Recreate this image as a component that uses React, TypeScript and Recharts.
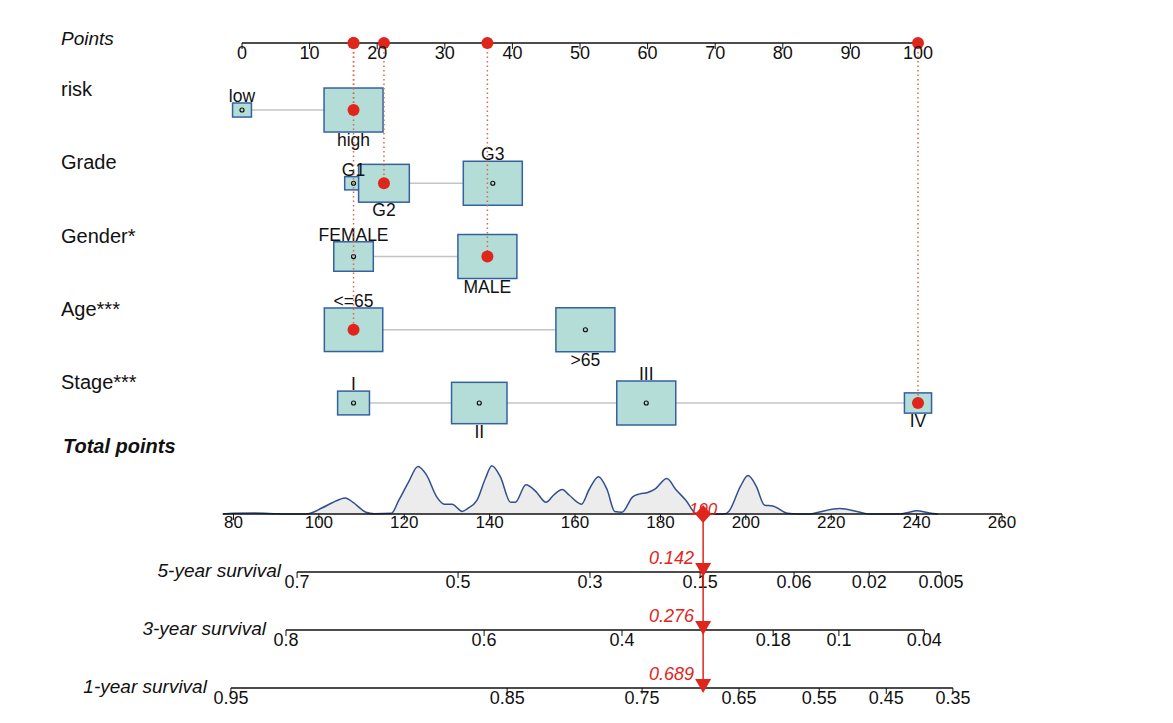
import React from "react";
import { ComposedChart, AreaChart, Area, Scatter, XAxis, YAxis } from "recharts";

const FONT = '"Liberation Sans", Arial, Helvetica, sans-serif';
const RED = "#e0261c";
const BOX_FILL = "#b3ddd6";
const BOX_STROKE = "#3561a3";
const INK = "#111";

// points scale (top axis)
const pointTicks = [0, 10, 20, 30, 40, 50, 60, 70, 80, 90, 100];

// predictors, their levels, points and box sizes
const variables = ["risk", "Grade", "Gender*", "Age***", "Stage***"];
const riskLevels = ["low", "high"];
const riskPoints = [0, 16.5];
const riskSizes = [0.32, 1];
const gradeLevels = ["G1", "G2", "G3"];
const gradePoints = [16.5, 21, 37.1];
const gradeSizes = [0.3, 0.86, 1];
const genderLevels = ["FEMALE", "MALE"];
const genderPoints = [16.5, 36.3];
const genderSizes = [0.67, 1];
const ageLevels = ["<=65", ">65"];
const agePoints = [16.5, 50.8];
const ageSizes = [0.99, 1];
const stageLevels = ["I", "II", "III", "IV"];
const stagePoints = [16.5, 35.1, 59.8, 100];
const stageSizes = [0.54, 0.94, 1, 0.46];
// the patient's levels (red dots)
const patient = ["high", "G2", "MALE", "<=65", "IV"];

// total points scale + density
const totalTicks = [80, 100, 120, 140, 160, 180, 200, 220, 240, 260];
const patientTotal = 190;
const densityPoints = [77.5, 80, 85, 89.5, 92, 97, 100.8, 103, 106.2, 108, 111, 113, 117, 118.7, 121, 123.2, 125.2, 127.6, 129.4, 131.2, 133.6, 134.8, 137, 139, 140.5, 142.5, 144.9, 146, 148.5, 150.8, 153.2, 155, 157, 158.6, 161.5, 163.3, 165.5, 167.5, 169.3, 171, 173.5, 175.2, 177, 178.8, 181.5, 183.6, 186, 188.3, 190, 195, 196, 198.8, 200.5, 202.4, 204.4, 206.3, 209.8, 212, 215, 217, 222, 227, 229, 236, 238, 240, 243, 245];
const densityHeights = [0, 2, 2.5, 1, 0, 0, 17, 30, 44, 32, 5, 1, 2, 37, 87, 130, 107, 47, 27, 27, 7, 15, 37, 97, 132, 102, 32, 32, 80, 62, 32, 52, 67, 52, 27, 67, 102, 67, 7, 5, 47, 55, 59, 69, 97, 67, 37, 2, 0, 0, 7, 77, 105, 77, 24, 22, 2, 0, 0, 5, 15, 4, 0, 0, 4, 9, 3, 0];

// survival scales, tick labels placed on total points
const survivalNames = ["5-year survival", "3-year survival", "1-year survival"];
const surv5Labels = ["0.7", "0.5", "0.3", "0.15", "0.06", "0.02", "0.005"];
const surv5Points = [94.9, 132.6, 163.5, 189.3, 211.3, 228.9, 245.7];
const surv3Labels = ["0.8", "0.6", "0.4", "0.18", "0.1", "0.04"];
const surv3Points = [92.3, 138.7, 171.0, 206.4, 221.8, 241.8];
const surv1Labels = ["0.95", "0.85", "0.75", "0.65", "0.55", "0.45", "0.35"];
const surv1Points = [79.4, 144.1, 175.7, 198.4, 217.2, 232.9, 248.5];
const survivalPredicted = ["0.142", "0.276", "0.689"];

const AXIS_ROW = 0.085;
const rowTicks = [AXIS_ROW, 1, 2, 3, 4, 5];
const rowTickLabels = ["Points", ...variables];

const rows = [
  { levels: riskLevels, pts: riskPoints, sizes: riskSizes },
  { levels: gradeLevels, pts: gradePoints, sizes: gradeSizes },
  { levels: genderLevels, pts: genderPoints, sizes: genderSizes },
  { levels: ageLevels, pts: agePoints, sizes: ageSizes },
  { levels: stageLevels, pts: stagePoints, sizes: stageSizes },
].map((r, ri) =>
  r.levels.map((label, i) => ({ x: r.pts[i], y: ri + 1, label, size: r.sizes[i], index: i }))
);

const picked = rows.map((lv, ri) => lv.find((l) => l.label === patient[ri])!);

const densityData = densityPoints.map((x, i) => ({ x, d: densityHeights[i] }));

const survivalRows = [
  { labels: surv5Labels, pts: surv5Points },
  { labels: surv3Labels, pts: surv3Points },
  { labels: surv1Labels, pts: surv1Points },
].map((s, si) => s.labels.map((label, i) => ({ x: s.pts[i], y: si + 1, label })));

const LevelBox = (props: any) => {
  const { cx, cy, payload } = props;
  const w = 59 * payload.size;
  const h = 44 * payload.size;
  return (
    <g>
      <rect x={cx - w / 2} y={cy - h / 2} width={w} height={h} fill={BOX_FILL} stroke={BOX_STROKE} strokeWidth={1.5} />
      <circle cx={cx} cy={cy} r={2} fill="none" stroke={INK} strokeWidth={1.2} />
    </g>
  );
};

// level names alternate above / below their boxes
const LevelLabel = (props: any) => {
  const { cx, cy, payload } = props;
  const h = 44 * payload.size;
  const above = payload.index % 2 === 0;
  return (
    <text x={cx} y={above ? cy - h / 2 - 1 : cy + h / 2 + 14} textAnchor="middle" fontSize={17.5} fill={INK} fontFamily={FONT}>
      {payload.label}
    </text>
  );
};

const RedDot = (props: any) => <circle cx={props.cx} cy={props.cy} r={6} fill={RED} />;
const Nothing = () => <g />;

const RowName = (props: any) => {
  const { y, payload } = props;
  const i = rowTicks.indexOf(payload.value);
  const isAxis = i === 0;
  return (
    <text x={61} y={isAxis ? y + 2 : y - 14} fontSize={isAxis ? 19 : 20} fontStyle={isAxis ? "italic" : "normal"} fill={INK} fontFamily={FONT}>
      {rowTickLabels[i]}
    </text>
  );
};

const SurvTick = (props: any) => {
  const { cx, cy, payload } = props;
  return (
    <g>
      <line x1={cx} x2={cx} y1={cy} y2={cy + 6} stroke={INK} strokeWidth={1} />
      <text x={cx} y={cy + 16} textAnchor="middle" fontSize={18} fill={INK} fontFamily={FONT}>
        {payload.label}
      </text>
    </g>
  );
};

const SurvName = (props: any) => {
  const { cx, cy, payload } = props;
  const gap = 12 + 4 * payload.y;
  return (
    <text x={cx - gap} y={cy + 5} textAnchor="end" fontSize={19} fontStyle="italic" fill={INK} fontFamily={FONT}>
      {survivalNames[payload.y - 1]}
    </text>
  );
};

const Arrow = (props: any) => {
  const { cx, cy, payload } = props;
  return (
    <g>
      <path d={`M${cx - 8},${cy - 9} L${cx + 8},${cy - 9} L${cx},${cy + 5} Z`} fill={RED} />
      <text x={cx - 9} y={cy - 8} textAnchor="end" fontSize={18} fontStyle="italic" fill={RED} fontFamily={FONT}>
        {payload.label}
      </text>
    </g>
  );
};

const Diamond = (props: any) => {
  const { cx, cy } = props;
  return (
    <g>
      <text x={cx} y={cy + 1} textAnchor="middle" fontSize={17} fontStyle="italic" fill={RED} fontFamily={FONT}>
        {patientTotal}
      </text>
      <path d={`M${cx},${cy - 9} L${cx + 8},${cy} L${cx},${cy + 9} L${cx - 8},${cy} Z`} fill={RED} />
    </g>
  );
};

const layer: React.CSSProperties = { position: "absolute", left: 0, top: 0 };

export default function App() {
  return (
    <div style={{ position: "absolute", left: 0, top: 0, width: 1173, height: 723, background: "#fff", fontFamily: FONT }}>
      {/* density above total points */}
      <div style={layer}>
        <AreaChart width={1173} height={723} data={densityData} margin={{ top: 465, bottom: 209, left: 222.8, right: 171 }}>
          <XAxis type="number" dataKey="x" domain={[77.5, 260]} hide />
          <YAxis type="number" domain={[0, 134]} hide />
          <Area type="monotone" dataKey="d" stroke="#2f4f8f" strokeWidth={1.5} fill="#ececec" fillOpacity={1} isAnimationActive={false} />
        </AreaChart>
      </div>

      {/* points scale and predictors */}
      <div style={layer}>
        <ComposedChart width={1173} height={723} margin={{ top: 43, bottom: 320, left: 42, right: 255 }}>
          <XAxis
            type="number"
            dataKey="x"
            orientation="top"
            mirror
            domain={[0, 100]}
            ticks={pointTicks}
            interval={0}
            tickSize={6}
            tickMargin={-2.5}
            stroke={INK}
            axisLine={{ stroke: INK, strokeWidth: 1.5 }}
            tick={{ fontSize: 18, fill: INK, fontFamily: FONT }}
          />
          <YAxis
            type="number"
            dataKey="y"
            reversed
            domain={[AXIS_ROW, 5]}
            ticks={rowTicks}
            interval={0}
            width={200}
            axisLine={false}
            tickLine={false}
            tick={<RowName />}
          />
          {rows.map((data, i) => (
            <Scatter key={`row-${i}`} data={data} line={{ stroke: "#c4c4c4", strokeWidth: 1.5 }} shape={<LevelBox />} isAnimationActive={false} />
          ))}
          {rows.map((data, i) => (
            <Scatter key={`lab-${i}`} data={data} shape={<LevelLabel />} isAnimationActive={false} />
          ))}
          {picked.map((p, i) => (
            <Scatter
              key={`guide-${i}`}
              data={[{ x: p.x, y: AXIS_ROW }, { x: p.x, y: p.y }]}
              line={{ stroke: "#d9694f", strokeWidth: 1.5, strokeDasharray: "1.5 3" }}
              shape={<Nothing />}
              isAnimationActive={false}
            />
          ))}
          <Scatter data={picked} shape={<RedDot />} isAnimationActive={false} />
          <Scatter data={picked.map((p) => ({ x: p.x, y: AXIS_ROW }))} shape={<RedDot />} isAnimationActive={false} />
        </ComposedChart>
      </div>

      {/* total points and survival scales */}
      <div style={layer}>
        <ComposedChart width={1173} height={723} margin={{ top: 514, bottom: 35, left: 222.8, right: 171 }}>
          <XAxis
            type="number"
            dataKey="x"
            orientation="top"
            mirror
            domain={[77.5, 260]}
            ticks={totalTicks}
            interval={0}
            tickSize={6}
            tickMargin={-4.5}
            stroke={INK}
            axisLine={{ stroke: INK, strokeWidth: 1.5 }}
            tick={{ fontSize: 17, fill: INK, fontFamily: FONT }}
          />
          <YAxis type="number" dataKey="y" reversed domain={[0, 3]} hide />
          {survivalRows.map((data, i) => (
            <Scatter key={`surv-${i}`} data={data} line={{ stroke: INK, strokeWidth: 1.5 }} shape={<SurvTick />} isAnimationActive={false} />
          ))}
          <Scatter data={survivalRows.map((r) => r[0])} shape={<SurvName />} isAnimationActive={false} />
          <Scatter
            data={[{ x: patientTotal, y: 0 }, { x: patientTotal, y: 3 }]}
            line={{ stroke: RED, strokeWidth: 1.5 }}
            shape={<Nothing />}
            isAnimationActive={false}
          />
          <Scatter
            data={survivalPredicted.map((label, i) => ({ x: patientTotal, y: i + 1, label }))}
            shape={<Arrow />}
            isAnimationActive={false}
          />
          <Scatter data={[{ x: patientTotal, y: 0 }]} shape={<Diamond />} isAnimationActive={false} />
        </ComposedChart>
      </div>

      <div style={{ position: "absolute", left: 63, top: 435, fontSize: 20, fontWeight: 700, fontStyle: "italic", color: INK }}>
        Total points
      </div>
    </div>
  );
}
